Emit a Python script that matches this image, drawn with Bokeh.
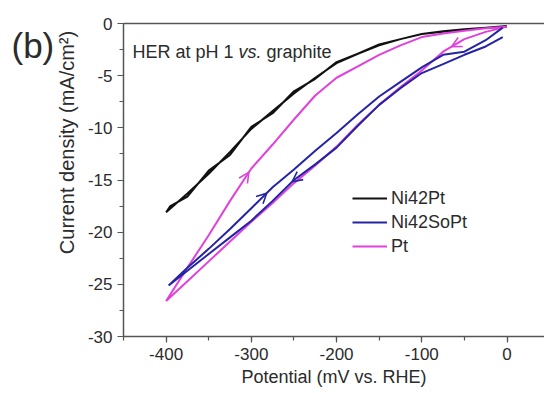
import numpy as np
from math import pi
from bokeh.plotting import figure
from bokeh.models import (Range1d, SingleIntervalTicker, LinearAxis, Label, Legend,
                          LegendItem, Arrow, OpenHead, PrintfTickFormatter)
from bokeh.embed import file_html
from bokeh.resources import INLINE

# ---------------- data ----------------
# Ni42Pt : cathodic sweep (0 -> -400 mV) and return sweep
ni42pt_fwd_x = [0, -25, -50, -75, -100, -125, -150, -175, -200, -225, -250, -275, -300, -325, -350, -375, -400]
ni42pt_fwd_y = [-0.25, -0.4, -0.6, -0.8, -1.0, -1.5, -2.1, -2.9, -3.8, -5.2, -6.7, -8.4, -10.1, -12.3, -14.4, -16.3, -18.1]
ni42pt_rev_x = [-395, -375, -350, -325, -300, -275, -250, -225, -200, -175, -150, -125, -100, -75, -50, -25, 0]
ni42pt_rev_y = [-17.5, -16.6, -14.1, -12.6, -9.9, -8.6, -6.5, -5.3, -3.7, -2.9, -2.0, -1.5, -1.0, -0.75, -0.55, -0.4, -0.3]

# Ni42SoPt
ni42sopt_fwd_x = [-5, -25, -50, -75, -100, -125, -150, -175, -200, -225, -250, -275, -300, -325, -350, -375, -397]
ni42sopt_fwd_y = [-1.3, -2.2, -3.0, -3.9, -4.75, -6.2, -7.8, -9.8, -11.9, -13.5, -15.0, -17.0, -18.9, -20.5, -22.1, -23.7, -25.1]
ni42sopt_rev_x = [-397, -375, -350, -325, -300, -275, -250, -225, -200, -175, -150, -125, -100, -75, -50, -25, -5]
ni42sopt_rev_y = [-25.1, -23.4, -21.6, -19.7, -17.7, -15.7, -14.0, -12.2, -10.5, -8.7, -7.0, -5.6, -4.2, -3.0, -2.7, -1.6, -0.4]

# Pt
pt_fwd_x = [0, -25, -50, -75, -100, -125, -150, -175, -200, -225, -250, -275, -300, -325, -350, -375, -400]
pt_fwd_y = [-0.3, -0.8, -1.5, -2.7, -4.5, -6.1, -7.8, -9.7, -11.8, -13.6, -15.3, -17.2, -19.0, -20.9, -22.8, -24.7, -26.6]
pt_rev_x = [-400, -375, -350, -325, -300, -275, -250, -225, -200, -175, -150, -125, -100, -75, -50, -25, 0]
pt_rev_y = [-26.6, -23.4, -20.3, -17.0, -13.9, -11.6, -9.2, -6.9, -5.2, -4.1, -3.0, -2.1, -1.3, -0.95, -0.7, -0.45, -0.3]

series_names = ["Ni42Pt", "Ni42SoPt", "Pt"]
x_ticks_interval = 100
y_ticks_interval = 5

# ---------------- style ----------------
C_BLACK = "#111111"
C_BLUE = "#2424a4"
C_PINK = "#e040dc"
AX = "#555555"
TXT = "#2b2b2b"
FONT = "Liberation Sans"

FL, FB = 123, 336   # frame left / bottom in canvas px (for in-frame text placement)

def sx(px):
    return px - FL

def sy(py):
    return FB - py

p = figure(width=544, height=393, output_backend="svg", toolbar_location=None,
           x_range=Range1d(-450, 44), y_range=Range1d(-30, 0),
           min_border_left=123, min_border_right=0, min_border_top=23, min_border_bottom=57)
p.grid.visible = False
p.outline_line_color = None
p.background_fill_color = "white"

for ax, iv in ((p.xaxis[0], x_ticks_interval), (p.yaxis[0], y_ticks_interval)):
    ax.ticker = SingleIntervalTicker(interval=iv, num_minor_ticks=2)
    ax.formatter = PrintfTickFormatter(format="%d")
    ax.axis_line_color = AX
    ax.axis_line_width = 1.5
    ax.major_tick_line_color = AX
    ax.minor_tick_line_color = AX
    ax.major_tick_line_width = 1.2
    ax.minor_tick_line_width = 1.2
    ax.major_tick_in = 0
    ax.major_tick_out = 6
    ax.minor_tick_in = 0
    ax.minor_tick_out = 4
    ax.major_label_text_font = FONT
    ax.major_label_text_font_size = "17px"
    ax.major_label_text_color = TXT
    ax.major_label_standoff = 5
    ax.axis_label_text_font = FONT
    ax.axis_label_text_font_style = "normal"
    ax.axis_label_text_color = TXT

p.xaxis.axis_label = "Potential (mV vs. RHE)"
p.xaxis.axis_label_text_font_size = "18px"
p.xaxis.axis_label_standoff = 4

top = LinearAxis(axis_line_color=AX, axis_line_width=1.5, major_tick_line_color=None,
                 minor_tick_line_color=None, major_label_text_font_size="0px",
                 major_label_standoff=0)
p.add_layout(top, "above")

# curves
r_black = p.line(ni42pt_fwd_x + ni42pt_rev_x, ni42pt_fwd_y + ni42pt_rev_y,
                 line_color=C_BLACK, line_width=2)
r_pink = p.line(pt_fwd_x + pt_rev_x, pt_fwd_y + pt_rev_y, line_color=C_PINK, line_width=2)
r_blue = p.line(ni42sopt_fwd_x + ni42sopt_rev_x, ni42sopt_fwd_y + ni42sopt_rev_y,
                line_color=C_BLUE, line_width=2)

# scan-direction arrows, positioned on the curves
def on_curve(xs, ys, x):
    xs = np.asarray(xs, float); ys = np.asarray(ys, float)
    o = np.argsort(xs)
    return float(np.interp(x, xs[o], ys[o]))

def add_arrow(xs, ys, x0, x1, color):
    p.add_layout(Arrow(x_start=x0, y_start=on_curve(xs, ys, x0),
                       x_end=x1, y_end=on_curve(xs, ys, x1),
                       line_alpha=0,
                       end=OpenHead(size=10, line_color=color, line_width=1.6)))

add_arrow(pt_fwd_x, pt_fwd_y, -45, -65, C_PINK)
add_arrow(pt_rev_x, pt_rev_y, -325, -303, C_PINK)
add_arrow(ni42sopt_rev_x, ni42sopt_rev_y, -305, -282, C_BLUE)
add_arrow(ni42sopt_fwd_x, ni42sopt_fwd_y, -230, -252, C_BLUE)

legend = Legend(items=[LegendItem(label=series_names[0], renderers=[r_black]),
                       LegendItem(label=series_names[1], renderers=[r_blue]),
                       LegendItem(label=series_names[2], renderers=[r_pink])],
                location=(229, 78), glyph_width=35, glyph_height=24, label_height=24,
                spacing=0, padding=0, margin=0, border_line_color=None,
                background_fill_alpha=0, label_text_font=FONT, label_text_font_size="18px",
                label_text_color=TXT, label_standoff=4)
p.add_layout(legend)

def lab(text, px, py, size="18px", style="normal", align="left", baseline="alphabetic"):
    p.add_layout(Label(x=sx(px), y=sy(py), x_units="screen", y_units="screen", text=text,
                       text_font=FONT, text_font_size=size, text_font_style=style,
                       text_color=TXT, text_align=align, text_baseline=baseline))

# in-plot annotation
lab("HER at pH 1", 132, 51)
lab("vs.", 238, 51, style="italic")
lab("graphite", 266, 51)

# y-axis title (side panel next to the axis)
p.add_layout(Label(x=4, y=FB - 142, x_units="screen", y_units="screen",
                   text="Current density (mA/cm²)", angle=pi / 2,
                   text_font=FONT, text_font_size="20px", text_color=TXT,
                   text_align="center", text_baseline="middle"), "left")

# panel letter (outer side panel)
p.add_layout(Label(x=-8, y=FB - 64, x_units="screen", y_units="screen", text="(b)",
                   text_font=FONT, text_font_size="35px", text_color=TXT,
                   text_align="left", text_baseline="bottom"), "left")

open("out.html", "w").write(file_html(p, INLINE))
